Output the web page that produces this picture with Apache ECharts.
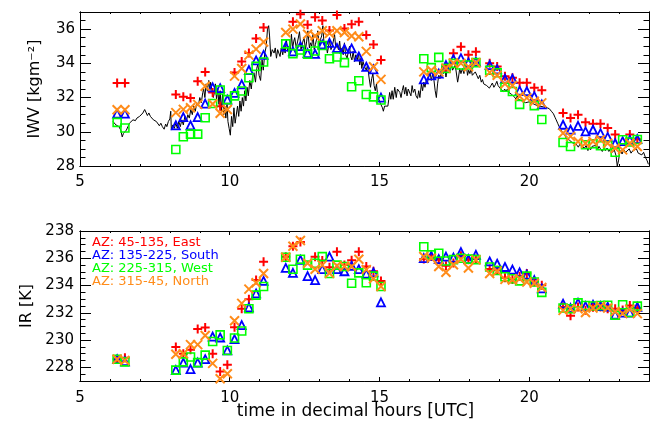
<!DOCTYPE html>
<html><head><meta charset="utf-8">
<script src="https://cdn.jsdelivr.net/npm/echarts@6/dist/echarts.min.js"></script>
<style>html,body{margin:0;padding:0;background:#fff}#c{width:656px;height:421px}</style>
</head><body><div id="c"></div>
<script>
// ---- data ----
const times = [6.24,6.5, 8.2,8.45,8.69,8.93,9.18,9.43,9.68,9.92,10.16,10.4,10.64,10.88,11.13,
  11.87,12.11,12.36,12.6,12.85,13.09,13.33,13.58,13.83,14.07,14.31,14.56,14.8,15.05,
  16.48,16.73,16.98,17.22,17.47,17.72,17.97,18.22,
  18.68,18.93,19.19,19.44,19.68,19.92,20.17,20.42,
  21.13,21.38,21.63,21.88,22.13,22.38,22.62,22.87,23.12,23.36,23.61];

const iwvEast  = [32.85,32.85, 32.18,32.04,31.98,32.96,33.49,32.3,31.49,null,33.47,34.1,34.6,35.45,36.1,
  null,36.43,36.87,36.25,36.69,36.5,35.92,36.82,36.04,36.29,36.43,35.65,35.1,34.2,
  null,null,null,33.8,34.59,34.97,34.5,34.67,
  34.0,33.82,33.25,33.16,32.86,32.86,32.57,32.43,
  31.1,30.8,31.0,30.55,30.47,30.47,30.22,29.84,null,29.84,29.57];
const iwvSouth = [31.06,31.06, 30.38,30.86,30.38,30.86,31.65,32.6,32.55,31.88,32.27,32.77,33.61,34.17,34.49,
  34.98,34.7,35.0,34.6,34.55,35.1,35.2,34.9,34.84,34.87,34.4,33.8,33.65,32.0,
  33.06,33.3,33.4,33.9,34.25,34.3,34.05,34.1,
  33.9,33.65,33.1,33.1,32.4,32.37,32.08,31.6,
  30.41,30.12,30.35,30.02,30.12,29.92,29.7,29.33,29.45,29.53,29.57];
const iwvWest  = [30.55,30.22, 28.96,29.71,29.86,29.86,30.82,31.65,32.44,31.88,32.1,32.38,33.16,33.82,34.08,
  35.14,34.57,34.78,34.54,34.72,35.04,34.27,34.37,34.04,32.63,32.98,32.18,32.04,31.86,
  34.27,33.75,34.35,33.7,34.0,33.9,33.9,34.04,
  33.6,33.45,32.6,32.35,31.6,null,31.53,30.72,
  29.37,29.14,null,29.24,29.3,29.18,29.2,28.8,29.53,29.4,29.55];
const iwvNorth = [31.29,31.29, 31.12,31.31,31.4,31.6,32.66,31.62,31.08,31.3,33.25,33.7,34.48,34.83,35.25,
  35.8,36.0,36.3,35.7,35.6,35.9,35.75,35.9,35.8,35.6,35.55,34.7,33.8,33.06,
  33.5,33.6,33.5,33.72,34.02,34.0,33.8,34.03,
  33.47,33.3,32.8,32.7,32.08,31.98,31.78,31.69,
  29.92,29.73,29.43,29.33,29.43,29.53,29.33,29.04,28.94,29.33,29.14];

const irEast  = [228.6,228.7, 229.49,229.0,229.3,230.82,230.92,229.0,227.69,228.2,230.94,232.3,233.0,234.4,235.75,
  236.12,236.88,237.2,null,236.12,235.83,235.35,236.48,235.5,235.86,236.48,235.4,235.05,234.33,
  235.94,236.13,235.9,235.45,235.65,236.18,235.9,235.94,
  235.22,235.12,234.57,234.45,234.69,234.88,234.26,234.02,
  232.42,231.78,232.42,232.18,232.4,232.42,232.3,232.3,232.2,232.54,232.35];
const irSouth = [228.6,228.45, 227.8,228.35,227.87,228.35,228.6,230.26,230.19,229.24,230.07,231.1,232.4,233.42,234.34,
  235.29,234.93,235.89,234.69,234.4,235.2,236.12,235.2,235.05,235.45,235.2,234.88,234.97,232.77,
  236.01,236.18,235.94,236.12,236.05,236.45,235.94,236.25,
  235.77,235.6,235.36,235.17,234.97,234.8,234.4,233.79,
  232.67,232.35,232.73,232.49,232.59,232.5,232.45,231.87,232.02,232.02,232.44];
const irWest  = [228.6,228.4, 227.8,228.4,228.76,228.35,228.9,229.9,230.38,229.24,230.15,230.67,232.3,233.3,233.93,
  236.07,235.2,235.93,235.5,235.64,236.12,234.88,235.5,235.4,234.17,234.93,234.21,234.69,233.93,
  236.84,236.25,236.37,235.8,235.9,236.0,235.94,235.9,
  235.36,235.1,234.65,234.5,234.34,234.69,234.26,233.5,
  232.35,232.3,232.73,232.54,232.5,232.54,232.55,231.83,232.59,232.02,232.49];
const irNorth = [228.6,228.5, 228.96,229.0,229.67,229.67,230.34,228.29,227.17,227.53,231.42,232.69,233.74,234.2,234.88,
  236.07,236.88,237.3,235.64,235.2,235.5,234.9,235.45,235.4,235.4,235.93,235.17,234.5,233.93,
  236.13,236.0,235.4,234.97,235.53,235.93,235.29,235.88,
  234.88,235.05,234.45,234.41,234.5,234.26,234.17,233.86,
  232.18,232.3,232.3,232.02,232.35,232.49,232.35,232.1,231.94,232.25,231.94];

// continuous IWV record (time, value)
const iwvTrace = [[6.10,30.6],[6.15,30.5],[6.2,30.4],[6.25,30.45],[6.3,30.3],[6.36,30.1],[6.41,29.7],[6.45,29.9],[6.5,29.95],
 [6.55,30.1],[6.6,30.3],[6.65,30.5],[6.7,30.6],[6.77,30.7],[6.85,30.65],[6.9,30.8],[6.99,30.9],[7.05,30.95],[7.1,31.1],
 [7.16,31.3],[7.2,31.15],[7.25,30.95],[7.3,31.1],[7.35,30.9],[7.4,30.95],[7.45,30.7],[7.5,30.75],[7.55,30.6],[7.6,30.55],
 [7.65,30.35],[7.7,30.5],[7.75,30.3],[7.81,30.15],[7.86,30.45],[7.9,30.3],[7.95,30.6],[8.0,30.75],[8.03,31.2],[8.05,30.1],
 [8.1,30.4],[8.15,30.2],[8.2,30.5],[8.25,30.2],[8.3,30.6],[8.35,30.3],[8.4,30.7],[8.45,30.4],[8.5,30.9],[8.55,30.6],
 [8.6,31.0],[8.65,30.8],[8.7,31.3],[8.75,31.0],[8.8,31.5],[8.85,31.2],[8.9,31.7],[8.95,31.5],[9.0,32.0],[9.05,31.7],
 [9.1,32.3],[9.13,32.5],[9.17,32.0],[9.21,32.8],[9.25,32.4],[9.3,33.0],[9.33,32.4],[9.36,32.9],[9.4,32.5],[9.45,32.0],
 [9.49,32.3],[9.52,32.8],[9.56,31.9],[9.6,32.5],[9.64,31.6],[9.68,32.4],[9.72,31.2],[9.76,32.2],[9.8,31.0],[9.83,31.5],
 [9.87,30.8],[9.91,31.6],[9.94,30.6],[9.98,30.2],[10.02,29.8],[10.06,30.9],[10.1,30.3],[10.14,31.4],[10.18,30.5],
 [10.22,30.4],[10.26,31.5],[10.3,30.9],[10.34,31.8],[10.38,31.2],[10.42,32.0],[10.46,31.5],[10.5,32.4],[10.54,31.8],
 [10.58,32.6],[10.62,32.1],[10.67,33.0],[10.72,32.5],[10.76,33.2],[10.81,33.45],[10.86,32.9],[10.9,33.7],[10.94,33.95],
 [10.98,33.3],[11.03,33.0],[11.08,34.2],[11.12,33.6],[11.17,34.6],[11.22,35.0],[11.26,36.0],[11.3,36.2],[11.33,35.6],
 [11.37,34.4],[11.42,34.8],[11.48,34.6],[11.52,34.9],[11.56,34.3],[11.6,34.8],[11.63,34.7],[11.68,34.4],[11.72,34.9],
 [11.77,34.5],[11.81,35.0],[11.85,34.6],[11.89,35.4],[11.94,34.7],[11.98,35.0],[12.02,34.6],[12.06,35.7],[12.1,34.9],
 [12.14,35.3],[12.17,35.5],[12.22,34.9],[12.27,35.3],[12.33,35.85],[12.38,34.8],[12.43,35.2],[12.48,35.5],[12.53,34.8],
 [12.57,35.3],[12.61,35.9],[12.66,34.9],[12.7,35.2],[12.74,35.0],[12.78,35.7],[12.82,34.8],[12.86,35.1],[12.9,35.4],
 [12.94,35.9],[12.99,35.0],[13.03,35.4],[13.07,35.6],[13.11,36.2],[13.15,35.1],[13.2,35.3],[13.26,34.6],[13.3,35.0],
 [13.33,35.4],[13.38,34.8],[13.42,35.0],[13.46,35.3],[13.5,35.7],[13.54,34.9],[13.58,35.1],[13.63,34.8],[13.67,35.3],
 [13.71,34.6],[13.75,34.9],[13.79,34.5],[13.83,35.2],[13.87,34.5],[13.92,34.3],[13.96,34.7],[14.0,35.0],[14.04,34.4],
 [14.08,34.2],[14.12,34.7],[14.17,34.1],[14.21,34.5],[14.26,34.2],[14.3,34.6],[14.34,33.9],[14.38,34.3],[14.41,33.7],
 [14.45,34.1],[14.5,33.8],[14.56,33.6],[14.6,33.9],[14.65,33.2],[14.7,32.6],[14.74,33.1],[14.78,33.4],[14.82,32.7],
 [14.86,32.4],[14.9,32.8],[14.94,32.1],[14.98,31.9],[15.02,31.7],[15.06,31.6],[15.1,31.4],[15.13,31.2],[15.17,31.5],
 [15.22,31.4],[15.28,31.5],[15.31,31.9],[15.34,32.3],[15.38,31.9],[15.42,32.4],[15.46,31.9],[15.51,32.6],[15.56,32.0],
 [15.6,32.5],[15.64,32.6],[15.68,32.3],[15.72,32.0],[15.76,32.4],[15.8,32.7],[15.84,32.2],[15.88,32.6],[15.92,32.1],
 [15.96,32.5],[16.01,32.6],[16.05,32.1],[16.09,32.7],[16.13,32.3],[16.18,32.5],[16.22,32.1],[16.27,31.95],[16.31,32.4],
 [16.35,32.0],[16.4,32.8],[16.44,32.4],[16.48,32.9],[16.52,32.6],[16.56,33.0],[16.6,32.8],[16.64,33.3],[16.69,33.5],
 [16.73,33.0],[16.78,33.4],[16.82,33.0],[16.86,32.4],[16.9,32.0],[16.94,32.8],[16.98,33.3],[17.02,33.1],[17.06,33.6],
 [17.09,33.8],[17.13,33.4],[17.18,33.7],[17.22,33.2],[17.26,33.6],[17.3,33.8],[17.35,33.5],[17.4,34.0],[17.44,33.6],
 [17.48,33.5],[17.53,33.9],[17.57,33.8],[17.61,32.9],[17.64,33.2],[17.68,33.7],[17.72,33.4],[17.77,33.7],[17.82,33.4],
 [17.86,33.8],[17.9,33.95],[17.94,33.3],[17.98,33.6],[18.02,33.4],[18.06,33.7],[18.1,33.3],[18.16,33.2],[18.2,33.5],
 [18.25,33.3],[18.3,33.1],[18.35,33.3],[18.4,32.9],[18.44,33.05],[18.48,32.8],[18.53,32.9],[18.58,32.7],[18.62,32.8],
 [18.67,32.55],[18.72,32.7],[18.77,32.85],[18.82,32.6],[18.87,32.75],[18.92,32.95],[18.96,32.7],[19.0,32.6],[19.05,32.5],
 [19.1,32.6],[19.14,32.35],[19.18,32.5],[19.22,32.35],[19.27,32.5],[19.32,32.3],[19.36,32.4],[19.4,32.2],[19.45,32.3],
 [19.5,32.05],[19.56,31.9],[19.6,32.1],[19.64,31.9],[19.7,31.95],[19.76,31.8],[19.82,31.9],[19.88,31.7],[19.94,31.8],
 [20.0,31.75],[20.06,31.85],[20.12,31.65],[20.18,31.7],[20.24,31.55],[20.3,31.65],[20.36,31.5],[20.42,31.6],[20.48,31.45],
 [20.54,31.55],[20.6,31.4],[20.67,31.35],[20.74,31.2],[20.81,31.05],[20.86,30.85],[20.9,30.7],[20.95,30.5],[21.0,30.3],
 [21.05,30.2],[21.1,30.0],[21.15,29.95],[21.2,29.75],[21.25,29.6],[21.3,29.65],[21.35,29.5],[21.4,29.55],[21.45,29.35],
 [21.5,29.4],[21.56,29.3],[21.6,29.4],[21.64,29.1],[21.7,29.3],[21.75,29.15],[21.8,29.25],[21.85,29.05],[21.9,29.2],
 [21.96,28.9],[22.0,29.1],[22.05,28.95],[22.1,29.15],[22.16,29.05],[22.22,29.2],[22.28,28.95],[22.33,29.15],[22.38,29.0],
 [22.44,28.85],[22.5,29.1],[22.55,28.9],[22.6,29.05],[22.66,28.85],[22.72,29.0],[22.78,28.8],[22.84,28.95],[22.9,28.6],
 [22.94,28.0],[22.98,28.3],[23.02,28.75],[23.06,28.9],[23.1,28.7],[23.16,28.95],[23.22,28.8],[23.28,28.85],[23.34,29.0],
 [23.4,28.75],[23.46,28.9],[23.52,28.8],[23.58,29.0],[23.64,28.75],[23.7,28.85],[23.76,28.65],[23.82,28.8],[23.88,28.5],
 [23.94,28.3],[23.98,28.1]];

const xTicks   = [5,10,15,20];
const iwvTicks = [28,30,32,34,36];
const irTicks  = [228,230,232,234,236,238];
const seriesNames = ['AZ: 45-135, East','AZ: 135-225, South','AZ: 225-315, West','AZ: 315-45, North'];

// ---- styles ----
const FONT = 'DejaVu Sans';
const COLORS = ['#ff0000','#0000ff','#00ff00','#ff8c1a'];
const SYMBOLS = ['path://M5,0L5,10M0,5L10,5','triangle','rect','path://M0,0L10,10M10,0L0,10'];
const SIZES = [9,8,8,9];
const BW = [2,1.8,1.6,2];

function pairs(vals){ const out=[]; vals.forEach((v,i)=>{ if(v!=null) out.push([times[i],v]); }); return out; }

const tickStyle = {color:'#000', width:1};
const lineOn = {show:true, onZero:false, lineStyle:{color:'#000', width:1}};
function xAx(grid,pos,major,extra){
  const a = {type:'value', gridIndex:grid, position:pos, min:5, max:24,
    axisLine:lineOn, splitLine:{show:false}, axisLabel:{show:false},
    axisTick: major ? {show:true, inside:true, length:4, customValues:xTicks, lineStyle:tickStyle}
                    : {show:true, inside:true, length:2, lineStyle:tickStyle}};
  if(!major) a.interval = 1;
  return Object.assign(a, extra||{});
}
function yAx(grid,pos,major,mn,mx,ticks,extra){
  const a = {type:'value', gridIndex:grid, position:pos, min:mn, max:mx,
    axisLine:lineOn, splitLine:{show:false}, axisLabel:{show:false},
    axisTick: major ? {show:true, inside:true, length:11, customValues:ticks, lineStyle:tickStyle}
                    : {show:true, inside:true, length:5.5, lineStyle:tickStyle}};
  if(!major) a.interval = 0.5;
  return Object.assign(a, extra||{});
}
const xLab = m => ({show:true, customValues:xTicks, margin:m, fontSize:15, color:'#000', fontFamily:FONT});

const xAxis = [
  xAx(0,'bottom',true,{axisLabel:xLab(9)}), xAx(0,'bottom',false), xAx(0,'top',true), xAx(0,'top',false),
  xAx(1,'bottom',true,{axisLabel:xLab(10), name:'time in decimal hours [UTC]', nameLocation:'middle', nameGap:22,
     nameMoveOverlap:false,
     nameTextStyle:{fontSize:17, color:'#000', fontFamily:FONT, padding:[0,18,0,0]}}),
  xAx(1,'bottom',false), xAx(1,'top',true), xAx(1,'top',false)
];
const yAxis = [
  yAx(0,'left',true,28,37,iwvTicks,{axisLabel:{show:true, customValues:iwvTicks, margin:5, fontSize:15, color:'#000', fontFamily:FONT},
     name:'IWV [kgm⁻²]', nameLocation:'middle', nameGap:37, nameMoveOverlap:false, nameTextStyle:{fontSize:16, color:'#000', fontFamily:FONT}}),
  yAx(0,'left',false,28,37), yAx(0,'right',true,28,37,iwvTicks), yAx(0,'right',false,28,37),
  yAx(1,'left',true,227,238,irTicks,{axisLabel:{show:true, customValues:irTicks, margin:6, fontSize:15, color:'#000', fontFamily:FONT, padding:[5,0,0,0]},
     name:'IR [K]', nameLocation:'middle', nameGap:45, nameMoveOverlap:false, nameTextStyle:{fontSize:16, color:'#000', fontFamily:FONT}}),
  yAx(1,'left',false,227,238), yAx(1,'right',true,227,238,irTicks), yAx(1,'right',false,227,238)
];

const iwvSets = [iwvEast, iwvSouth, iwvWest, iwvNorth];
const irSets  = [irEast, irSouth, irWest, irNorth];

const series = [{
  type:'line', name:'IWV trace', xAxisIndex:0, yAxisIndex:0, data:iwvTrace, showSymbol:false, symbol:'none',
  lineStyle:{color:'#000', width:1}, z:1, silent:true
}];
function scat(i, vals, ax){
  return {type:'scatter', name:seriesNames[i], xAxisIndex:ax, yAxisIndex:ax, data:pairs(vals),
    symbol:SYMBOLS[i], symbolSize:SIZES[i], z:2+i, silent:true,
    itemStyle:{color:'rgba(0,0,0,0)', borderColor:COLORS[i], borderWidth:BW[i], opacity:1}};
}
iwvSets.forEach((v,i)=>series.push(scat(i,v,0)));
irSets.forEach((v,i)=>series.push(scat(i,v,4)));

const chart = echarts.init(document.getElementById('c'), null, {renderer:'canvas'});
chart.setOption({
  animation:false, backgroundColor:'#fff',
  grid:[
    {left:80, top:12, width:569, height:154, show:false},
    {left:80, top:231, width:569, height:153, show:false}
  ],
  legend:{
    data: seriesNames.map((n,i)=>({name:n, textStyle:{color:COLORS[i]}})),
    icon:'none', orient:'vertical', left:87, top:236, itemWidth:0, itemHeight:10, itemGap:0, padding:0,
    selectedMode:false, textStyle:{fontFamily:FONT, fontSize:13, lineHeight:13}
  },
  xAxis, yAxis, series
});
</script></body></html>
